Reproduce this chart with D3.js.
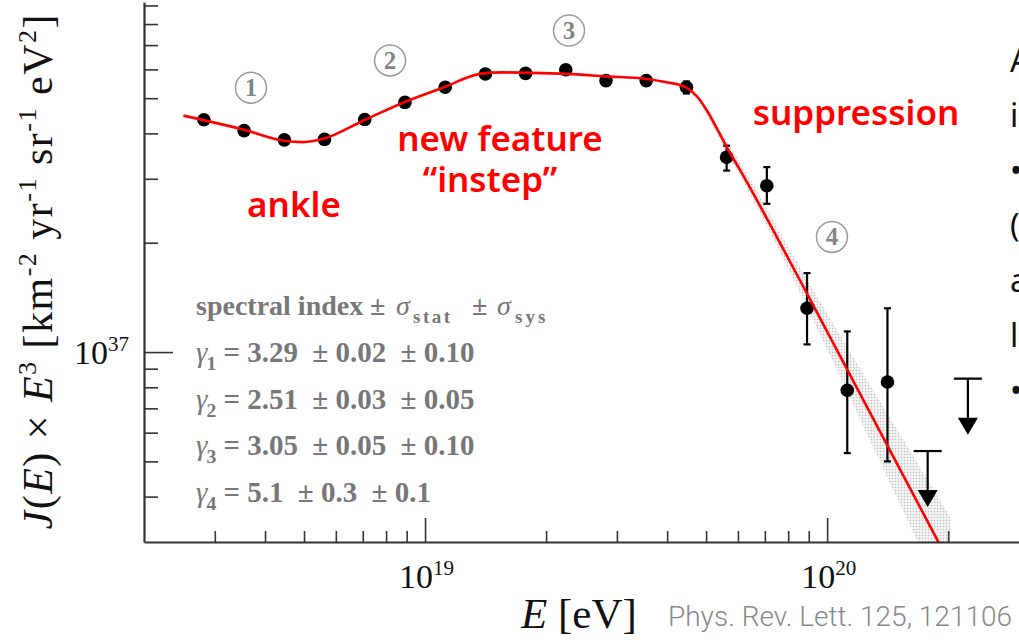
<!DOCTYPE html>
<html>
<head>
<meta charset="utf-8">
<script src="https://cdn.jsdelivr.net/npm/d3@7"></script>
<style>
  body { margin: 0; background: #fff; }
  svg { display: block; }
</style>
</head>
<body>
<svg id="chart" width="1019" height="642"></svg>
<script>
// energy bins, log10(E/eV)
const logE = [18.45, 18.55, 18.65, 18.75, 18.85, 18.95, 19.05, 19.15, 19.25, 19.35,
              19.45, 19.55, 19.65, 19.75, 19.85, 19.95, 20.05, 20.15, 20.25, 20.35];
// J(E) x E^3 [km^-2 yr^-1 sr^-1 eV^2]
const flux = [4.36e37, 4.07e37, 3.84e37, 3.85e37, 4.37e37, 4.87e37, 5.36e37, 5.83e37, 5.85e37, 5.99e37,
              5.59e37, 5.59e37, 5.36e37, 3.44e37, 2.87e37, 1.32e37, 7.85e36, 8.27e36, 5.34e36, 8.45e36];
const errLo = [4.30e37, 4.01e37, 3.78e37, 3.79e37, 4.30e37, 4.80e37, 5.28e37, 5.74e37, 5.76e37, 5.88e37,
               5.49e37, 5.48e37, 5.15e37, 3.16e37, 2.56e37, 1.05e37, 5.27e36, 5.00e36, null, null];
const errHi = [4.42e37, 4.13e37, 3.90e37, 3.91e37, 4.44e37, 4.94e37, 5.44e37, 5.92e37, 5.94e37, 6.10e37,
               5.69e37, 5.70e37, 5.56e37, 3.70e37, 3.23e37, 1.65e37, 1.14e37, 1.32e37, null, null];
const upperLimit = [false, false, false, false, false, false, false, false, false, false,
                    false, false, false, false, false, false, false, false, true, true];

// fitted broken power law
const fitLogE = [18.399, 18.550, 18.648, 18.697, 18.746, 18.846, 18.948, 19.047, 19.137, 19.194,
                 19.249, 19.350, 19.450, 19.550, 19.601, 19.649, 19.677, 19.701, 19.726, 19.751,
                 19.784, 19.950, 20.294];
const fitLogJ = [37.651, 37.612, 37.582, 37.578, 37.587, 37.637, 37.688, 37.729, 37.766, 37.770,
                 37.769, 37.766, 37.759, 37.752, 37.743, 37.729, 37.703, 37.665, 37.615, 37.563,
                 37.500, 37.161, 36.441];
// systematic band around the suppression
const bandLogE = [19.585, 19.649, 19.759, 19.950, 20.107, 20.306];
const bandLo   = [37.743, 37.724, 37.532, 37.122, 36.755, 36.287];
const bandHi   = [37.749, 37.735, 37.565, 37.199, 36.909, 36.546];

const xTicksMajor = [1e19, 1e20];
const xTicksMinor = [3e18, 4e18, 5e18, 6e18, 7e18, 8e18, 9e18,
                     2e19, 3e19, 4e19, 5e19, 6e19, 7e19, 8e19, 9e19, 2e20];
const yTicksMajor = [1e37];
const yTicksMinor = [4e36, 5e36, 6e36, 7e36, 8e36, 9e36,
                     2e37, 3e37, 4e37, 5e37, 6e37, 7e37, 8e37, 9e37];

const regions = [
  {label: "1", logE: 18.567, logJ: 37.728},
  {label: "2", logE: 18.913, logJ: 37.803},
  {label: "3", logE: 19.358, logJ: 37.885},
  {label: "4", logE: 20.012, logJ: 37.317}
];
const fitParams = [
  ["1", "3.29", "0.02", "0.10"],
  ["2", "2.51", "0.03", "0.05"],
  ["3", "3.05", "0.05", "0.10"],
  ["4", "5.1", "0.3", "0.1"]
];
const notes = [
  ["ankle", 294, 217],
  ["new feature", 500, 151],
  ["\u201cinstep\u201d", 490, 192],
  ["suppression", 856, 125]
];
const sideText = ["A", "i", "•", "(", "a", "l", "•"];

const svg = d3.select("#chart");
const pLeft = 144, pRight = 1019, pTop = 2, pBottom = 542;

const x = d3.scaleLog().domain([2e18, 3e20]).range([pLeft, pRight]);
const y = d3.scaleLog().domain([3e36, 9.2e37]).range([pBottom, pTop]);

const serif = "'Liberation Serif', 'Times New Roman', serif";
const axisCol = "#333";

// stipple pattern for the band
const defs = svg.append("defs");
const pat = defs.append("pattern").attr("id", "stip")
  .attr("width", 3).attr("height", 3).attr("patternUnits", "userSpaceOnUse");
pat.append("rect").attr("width", 3).attr("height", 3).attr("fill", "#f3f3f3");
pat.append("circle").attr("cx", 1.5).attr("cy", 1.5).attr("r", 0.75).attr("fill", "#bdbdbd");
defs.append("clipPath").attr("id", "plotclip").append("rect")
  .attr("x", pLeft).attr("y", pTop).attr("width", pRight - pLeft).attr("height", pBottom - pTop);

const plot = svg.append("g").attr("clip-path", "url(#plotclip)");

// band
const bandData = bandLogE.map((e, i) => ({e: Math.pow(10, e), lo: Math.pow(10, bandLo[i]), hi: Math.pow(10, bandHi[i])}));
plot.append("path")
  .datum(bandData)
  .attr("d", d3.area().x(d => x(d.e)).y0(d => y(d.lo)).y1(d => y(d.hi)).curve(d3.curveMonotoneX))
  .attr("fill", "url(#stip)");

// data points
const pts = logE.map((e, i) => ({
  e: Math.pow(10, e), v: flux[i], lo: errLo[i], hi: errHi[i], ul: upperLimit[i]
}));
const measured = pts.filter(d => !d.ul);

plot.selectAll(".err")
  .data(measured)
  .enter().append("line")
  .attr("class", "err")
  .attr("x1", d => x(d.e)).attr("x2", d => x(d.e))
  .attr("y1", d => y(d.lo)).attr("y2", d => y(d.hi))
  .attr("stroke", "#000").attr("stroke-width", 2.2);

["lo", "hi"].forEach(k => {
  plot.selectAll(".cap" + k)
    .data(measured)
    .enter().append("line")
    .attr("x1", d => x(d.e) - 3.5).attr("x2", d => x(d.e) + 3.5)
    .attr("y1", d => y(d[k])).attr("y2", d => y(d[k]))
    .attr("stroke", "#000").attr("stroke-width", 2.2);
});

plot.selectAll(".dot")
  .data(measured)
  .enter().append("circle")
  .attr("class", "dot")
  .attr("cx", d => x(d.e)).attr("cy", d => y(d.v))
  .attr("r", 6.8).attr("fill", "#000");

// upper limits
const ul = plot.selectAll(".ul")
  .data(pts.filter(d => d.ul))
  .enter().append("g").attr("class", "ul");
ul.append("line")
  .attr("x1", d => x(d.e) - 14).attr("x2", d => x(d.e) + 14)
  .attr("y1", d => y(d.v)).attr("y2", d => y(d.v))
  .attr("stroke", "#000").attr("stroke-width", 2.2);
ul.append("line")
  .attr("x1", d => x(d.e)).attr("x2", d => x(d.e))
  .attr("y1", d => y(d.v)).attr("y2", d => y(d.v) + 42)
  .attr("stroke", "#000").attr("stroke-width", 2.2);
ul.append("path")
  .attr("d", d => {
    const cx = x(d.e), cy = y(d.v) + 39;
    return `M${cx - 10},${cy}L${cx + 10},${cy}L${cx},${cy + 17}Z`;
  })
  .attr("fill", "#000");

// fit line
const fitData = fitLogE.map((e, i) => ({e: Math.pow(10, e), v: Math.pow(10, fitLogJ[i])}));
plot.append("path")
  .datum(fitData)
  .attr("d", d3.line().x(d => x(d.e)).y(d => y(d.v)).curve(d3.curveMonotoneX))
  .attr("fill", "none")
  .attr("stroke", "#ff0000")
  .attr("stroke-width", 2.6);

// axes
const yAxis = svg.append("g").attr("transform", `translate(${pLeft},0)`)
  .call(d3.axisLeft(y).tickValues(yTicksMinor.concat(yTicksMajor)).tickSize(-14).tickSizeOuter(0).tickFormat(""));
yAxis.selectAll(".tick line").filter(d => yTicksMajor.includes(d)).attr("x2", 29);
yAxis.selectAll(".tick line").attr("stroke", axisCol).attr("stroke-width", 1.6);
yAxis.select(".domain").attr("stroke", axisCol).attr("stroke-width", 2.2);

const xAxis = svg.append("g").attr("transform", `translate(0,${pBottom})`)
  .call(d3.axisBottom(x).tickValues(xTicksMinor.concat(xTicksMajor)).tickSize(-11).tickSizeOuter(0).tickFormat(""));
xAxis.selectAll(".tick line").filter(d => xTicksMajor.includes(d)).attr("y2", -24);
xAxis.selectAll(".tick line").attr("stroke", axisCol).attr("stroke-width", 1.6);
xAxis.select(".domain").attr("stroke", axisCol).attr("stroke-width", 2.2);

// rich text helper: parts = [text, opts]; opts.sup / opts.sub shift the baseline
function rich(t, parts, base) {
  let shift = 0;
  parts.forEach(([s, o]) => {
    o = o || {};
    const target = o.sup ? -base * 0.38 : o.sub ? base * 0.28 : 0;
    const ts = t.append("tspan").attr("dy", target - shift).text(s);
    shift = target;
    if (o.x != null) ts.attr("x", o.x);
    if (o.dx) ts.attr("dx", o.dx);
    if (o.ls) ts.attr("letter-spacing", o.ls);
    if (o.sup || o.sub) ts.attr("font-size", base * (o.scale || 0.62));
    if (o.it) ts.attr("font-style", "italic").attr("font-weight", "normal");
  });
}

// tick labels
xTicksMajor.forEach(t => {
  const tx = svg.append("text").attr("x", x(t) - 26).attr("y", 588)
    .attr("font-family", serif).attr("font-size", 34).attr("fill", "#111");
  rich(tx, [["10"], [String(Math.round(Math.log10(t))), {sup: true}]], 34);
});
yTicksMajor.forEach(t => {
  const tx = svg.append("text").attr("x", 74).attr("y", y(t) + 12)
    .attr("font-family", serif).attr("font-size", 34).attr("fill", "#111");
  rich(tx, [["10"], [String(Math.round(Math.log10(t))), {sup: true}]], 34);
});

// x label
const xl = svg.append("text").attr("x", 521).attr("y", 628)
  .attr("font-family", serif).attr("font-size", 43).attr("fill", "#111");
rich(xl, [["E", {it: true}], [" [eV]"]], 43);

svg.append("text").attr("x", 668).attr("y", 626)
  .attr("font-family", "Roboto, 'Liberation Sans', sans-serif").attr("font-weight", 300)
  .attr("font-size", 28).attr("fill", "#888")
  .text("Phys. Rev. Lett. 125, 121106");

// y label
const yl = svg.append("text")
  .attr("transform", "translate(52,272) rotate(-90)")
  .attr("text-anchor", "middle")
  .attr("textLength", 515).attr("lengthAdjust", "spacing")
  .attr("font-family", serif).attr("font-size", 42).attr("fill", "#111");
rich(yl, [["J", {it: true}], ["("], ["E", {it: true}], [") \u00d7 "], ["E", {it: true}], ["3", {sup: true}],
          [" [km"], ["-2", {sup: true}], [" yr"], ["-1", {sup: true}], [" sr"], ["-1", {sup: true}],
          [" eV"], ["2", {sup: true}], ["]"]], 42);

// spectral index box
const gray = "#777";
const sp = svg.append("text").attr("x", 196).attr("y", 315)
  .attr("font-family", serif).attr("font-size", 28).attr("font-weight", "bold").attr("fill", gray);
rich(sp, [["spectral index"], ["\u00b1", {x: 370}], ["\u03c3", {it: true, x: 396}],
          ["stat", {sub: true, scale: 0.68, x: 413, ls: 2.5}],
          ["\u00b1", {x: 472}], ["\u03c3", {it: true, x: 497}],
          ["sys", {sub: true, scale: 0.68, x: 515, ls: 3}]], 28);

fitParams.forEach((p, i) => {
  const t = svg.append("text").attr("x", 196).attr("y", 362 + i * 46.6)
    .attr("font-family", serif).attr("font-size", 29).attr("font-weight", "bold").attr("fill", gray);
  rich(t, [["\u03b3", {it: true}], [p[0], {sub: true, scale: 0.68, dx: -1}],
           [` = ${p[1]} `], ["\u00b1", {dx: 7}], [` ${p[2]} `],
           ["\u00b1", {dx: 7}], [` ${p[3]}`]], 29);
});

// circled region markers
const reg = svg.selectAll(".reg").data(regions).enter().append("g")
  .attr("transform", d => `translate(${x(Math.pow(10, d.logE))},${y(Math.pow(10, d.logJ))})`);
reg.append("circle").attr("r", 15.5).attr("fill", "none").attr("stroke", "#9a9a9a").attr("stroke-width", 1.5);
reg.append("text").attr("text-anchor", "middle").attr("y", 8.5)
  .attr("font-family", serif).attr("font-size", 25).attr("font-weight", "bold").attr("fill", "#858585")
  .text(d => d.label);

// red annotations
const redFont = "'Noto Sans', 'Liberation Sans', sans-serif";
svg.selectAll(".note").data(notes).enter().append("text")
  .attr("x", d => d[1]).attr("y", d => d[2])
  .attr("text-anchor", "middle")
  .attr("font-family", redFont).attr("font-size", 35).attr("font-weight", 600)
  .attr("fill", "#ff0000").text(d => d[0]);

// slide text cut at the right edge
svg.selectAll(".side").data(sideText).enter().append("text")
  .attr("x", 1010).attr("y", (d, i) => 72 + i * 55)
  .attr("font-family", redFont).attr("font-size", 32).attr("fill", "#111")
  .text(d => d);
</script>
</body>
</html>
